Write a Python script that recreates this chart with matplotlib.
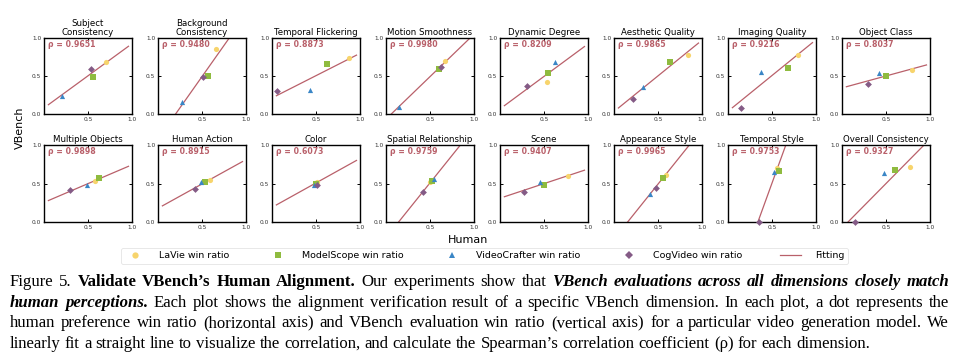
import numpy as np
import matplotlib
matplotlib.use("Agg")
import matplotlib.pyplot as plt
from matplotlib.lines import Line2D

titles = ["Subject\nConsistency", "Background\nConsistency", "Temporal Flickering",
          "Motion Smoothness", "Dynamic Degree", "Aesthetic Quality", "Imaging Quality",
          "Object Class", "Multiple Objects", "Human Action", "Color",
          "Spatial Relationship", "Scene", "Appearance Style", "Temporal Style",
          "Overall Consistency"]
rhos = ["0.9651", "0.9480", "0.8873", "0.9980", "0.8209", "0.9865", "0.9216", "0.8037",
        "0.9898", "0.8915", "0.6073", "0.9759", "0.9407", "0.9965", "0.9753", "0.9327"]

# (human win ratio, vbench win ratio) per model per dimension
lavie_x = [0.70, 0.66, 0.88, 0.67, 0.53, 0.84, 0.79, 0.795, 0.584, 0.588, 0.508, 0.502, 0.777, 0.587, 0.555, 0.776]
lavie_y = [0.68, 0.86, 0.74, 0.70, 0.42, 0.78, 0.778, 0.578, 0.534, 0.543, 0.517, 0.522, 0.60, 0.616, 0.698, 0.71]
ms_x = [0.56, 0.57, 0.62, 0.60, 0.54, 0.636, 0.68, 0.498, 0.62, 0.534, 0.50, 0.528, 0.504, 0.553, 0.577, 0.60]
ms_y = [0.49, 0.50, 0.66, 0.59, 0.535, 0.68, 0.604, 0.496, 0.573, 0.513, 0.49, 0.526, 0.483, 0.573, 0.66, 0.672]
vc_x = [0.20, 0.275, 0.43, 0.15, 0.625, 0.326, 0.38, 0.422, 0.49, 0.485, 0.477, 0.547, 0.458, 0.41, 0.52, 0.479]
vc_y = [0.24, 0.16, 0.31, 0.095, 0.68, 0.35, 0.557, 0.543, 0.48, 0.52, 0.483, 0.556, 0.517, 0.362, 0.655, 0.63]
cog_x = [0.53, 0.515, 0.053, 0.62, 0.31, 0.216, 0.143, 0.293, 0.298, 0.416, 0.51, 0.426, 0.27, 0.473, 0.347, 0.144]
cog_y = [0.59, 0.49, 0.30, 0.62, 0.365, 0.195, 0.078, 0.39, 0.41, 0.427, 0.483, 0.384, 0.392, 0.444, 0.0, 0.0]

fit_slope = [0.845, 1.64, 0.587, 1.117, 0.855, 0.939, 0.941, 0.315,
             0.489, 0.632, 0.635, 1.424, 0.379, 1.426, 3.15, 1.157]
fit_intercept = [0.08, -0.328, 0.211, -0.067, 0.067, 0.032, 0.036, 0.343,
                 0.254, 0.178, 0.19, -0.204, 0.309, -0.221, -1.07, -0.079]

series_labels = ["LaVie win ratio", "ModelScope win ratio", "VideoCrafter win ratio",
                 "CogVideo win ratio", "Fitting"]

C_LAVIE = "#f7d46c"
C_MS = "#8fbb3f"
C_VC = "#3a86c6"
C_COG = "#845b86"
C_FIT = "#b9606a"

W, H = 960, 360
fig = plt.figure(figsize=(9.6, 3.6), dpi=100)

pitch = 114
for i in range(16):
    r, c = divmod(i, 8)
    x0 = 44 + pitch * c
    top = 38 if r == 0 else 145
    bot = 114 if r == 0 else 222
    ax = fig.add_axes([x0 / W, 1 - bot / H, 88 / W, (bot - top) / H])
    xs = np.array([0.05, 0.96])
    ax.plot(xs, fit_slope[i] * xs + fit_intercept[i], color=C_FIT, lw=0.9, zorder=2)
    ax.scatter([lavie_x[i]], [lavie_y[i]], marker="o", s=14, color=C_LAVIE, zorder=3, linewidths=0)
    ax.scatter([ms_x[i]], [ms_y[i]], marker="s", s=14, color=C_MS, zorder=3, linewidths=0)
    ax.scatter([vc_x[i]], [vc_y[i]], marker="^", s=14, color=C_VC, zorder=3, linewidths=0)
    ax.scatter([cog_x[i]], [cog_y[i]], marker="D", s=12, color=C_COG, zorder=3, linewidths=0,
               clip_on=False)
    ax.set_xlim(0, 1)
    ax.set_ylim(0, 1)
    ax.set_xticks([0.5, 1.0])
    ax.set_yticks([0.0, 0.5, 1.0])
    ax.set_xticklabels(["0.5", "1.0"])
    ax.set_yticklabels(["0.0", "0.5", "1.0"])
    ax.tick_params(direction="in", length=2, width=0.7, labelsize=4.2, pad=2,
                   top=True, right=True, colors="black", labelcolor="#333333")
    for s in ax.spines.values():
        s.set_linewidth(1.0)
    ax.set_title(titles[i], fontsize=6.2, pad=2, linespacing=1.0)
    ax.text(0.05, 0.91, "ρ = " + rhos[i], transform=ax.transAxes, color=C_FIT,
            fontsize=5.6, fontweight="bold", va="center", ha="left")

fig.text(468 / W, 1 - 240 / H, "Human", fontsize=8, ha="center", va="center")
fig.text(20 / W, 1 - 128 / H, "VBench", fontsize=8, ha="center", va="center", rotation=90)

handles = [
    Line2D([], [], marker="o", ls="none", color=C_LAVIE, markersize=4.5, markeredgewidth=0),
    Line2D([], [], marker="s", ls="none", color=C_MS, markersize=4.2, markeredgewidth=0),
    Line2D([], [], marker="^", ls="none", color=C_VC, markersize=4.5, markeredgewidth=0),
    Line2D([], [], marker="D", ls="none", color=C_COG, markersize=4.0, markeredgewidth=0),
    Line2D([], [], color=C_FIT, lw=0.9),
]
leg = fig.legend(handles, series_labels, loc="center", bbox_to_anchor=(484.5 / W, 1 - 256 / H),
                 ncol=5, fontsize=6.8, frameon=True, columnspacing=4.0, handlelength=2.2,
                 handletextpad=1.5, borderpad=0.35, edgecolor="#dddddd", fancybox=True)
leg.get_frame().set_linewidth(0.6)

# ---- caption (justified) ----
SERIF = ["Liberation Serif", "DejaVu Serif"]
cap_lines = [
    [("Figure 5.", "n"), ("Validate VBench’s Human Alignment.", "b"),
     ("Our experiments show that", "n"),
     ("VBench evaluations across all dimensions closely match", "bi")],
    [("human perceptions.", "bi"),
     ("Each plot shows the alignment verification result of a specific VBench dimension. In each plot, a dot represents the", "n")],
    [("human preference win ratio (horizontal axis) and VBench evaluation win ratio (vertical axis) for a particular video generation model. We", "n")],
    [("linearly fit a straight line to visualize the correlation, and calculate the Spearman’s correlation coefficient (ρ) for each dimension.", "n")],
]
baselines = [286, 306.6, 327.2, 347.8]
left, right = 10, 949
cap_size = 12.1

renderer = fig.canvas.get_renderer()
for li, segs in enumerate(cap_lines):
    words = []
    for txt, st in segs:
        for w in txt.split(" "):
            words.append((w, st))
    objs = []
    for w, st in words:
        t = fig.text(0, 1 - baselines[li] / H, w, fontsize=cap_size, family=SERIF,
                     fontweight="bold" if "b" in st else "normal",
                     fontstyle="italic" if "i" in st else "normal", va="baseline", ha="left")
        objs.append(t)
    widths = [o.get_window_extent(renderer).width for o in objs]
    if li < len(cap_lines) - 1:
        gap = (right - left - sum(widths)) / (len(objs) - 1)
    else:
        gap = cap_size * 100 / 72 * 0.25
    x = left
    for o, wdt in zip(objs, widths):
        o.set_x(x / W)
        x += wdt + gap

fig.savefig("out.png", dpi=100)
